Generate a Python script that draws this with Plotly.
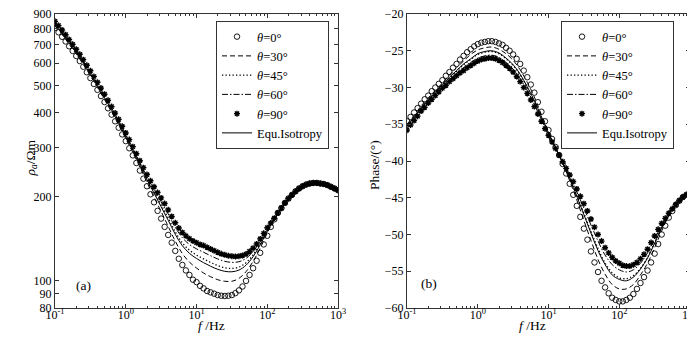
import plotly.graph_objects as go

# ---------------- data ----------------
# frequency exponents (log10 f): markers at 0.05 steps, lines at 0.1 steps
EXP_MARK = [-1.0, -0.95, -0.9, -0.85, -0.8, -0.75, -0.7, -0.65, -0.6, -0.55,
            -0.5, -0.45, -0.4, -0.35, -0.3, -0.25, -0.2, -0.15, -0.1, -0.05,
            0.0, 0.05, 0.1, 0.15, 0.2, 0.25, 0.3, 0.35, 0.4, 0.45,
            0.5, 0.55, 0.6, 0.65, 0.7, 0.75, 0.8, 0.85, 0.9, 0.95,
            1.0, 1.05, 1.1, 1.15, 1.2, 1.25, 1.3, 1.35, 1.4, 1.45,
            1.5, 1.55, 1.6, 1.65, 1.7, 1.75, 1.8, 1.85, 1.9, 1.95,
            2.0, 2.05, 2.1, 2.15, 2.2, 2.25, 2.3, 2.35, 2.4, 2.45,
            2.5, 2.55, 2.6, 2.65, 2.7, 2.75, 2.8, 2.85, 2.9, 2.95, 3.0]
EXP_LINE = [-1.0, -0.9, -0.8, -0.7, -0.6, -0.5, -0.4, -0.3, -0.2, -0.1,
            0.0, 0.1, 0.2, 0.3, 0.4, 0.5, 0.6, 0.7, 0.8, 0.9,
            1.0, 1.1, 1.2, 1.3, 1.4, 1.5, 1.6, 1.7, 1.8, 1.9,
            2.0, 2.1, 2.2, 2.3, 2.4, 2.5, 2.6, 2.7, 2.8, 2.9, 3.0]

# apparent resistivity (Ohm m)
RHO_0 = [802, 774, 746, 718, 690, 664, 637, 611, 583, 557,
         531, 506, 482, 458, 436, 414, 393, 372, 353, 334,
         316, 298, 281, 264, 248, 232, 218, 204, 191, 178,
         167, 156, 146, 137, 128, 120, 114, 109, 105, 101,
         99, 96, 94, 92, 91, 90, 89, 88.5, 88.3, 88.5,
         89, 90.4, 92.5, 95.5, 100, 105, 111, 118, 126, 135,
         145, 156, 166, 175, 182, 190, 197, 203, 209, 214,
         218, 221, 223, 224, 224, 223, 222, 220, 217, 214, 211]
RHO_90 = [847, 818, 789, 759, 729, 701, 673, 646, 618, 590,
          564, 538, 513, 489, 465, 442, 420, 398, 378, 357,
          338, 320, 302, 285, 269, 254, 240, 228, 217, 207,
          198, 189, 179.5, 170, 161.4, 154.5, 149, 144.9, 141.6, 139,
          137, 135, 133.7, 131.8, 130, 128.2, 126.5, 125, 123.9, 123,
          122.5, 122.2, 122.5, 123.3, 124.7, 127.4, 130.9, 135.5, 141.3, 147.9,
          154.9, 161, 167.5, 175, 182.4, 190, 197, 203, 209, 214,
          218, 221, 223, 224, 224, 223, 222, 220, 217, 214, 211]
RHO_30 = [816, 760, 702, 649, 594, 542, 492, 445, 402, 361,
          323, 288, 255, 225, 199, 177, 156.7, 138.7, 125.2, 116.7,
          111.2, 106.7, 103.5, 101.0, 99.7, 99.7, 102.1, 107.9, 117.4, 130.9,
          148.2, 166.5, 182, 197, 209, 218, 223, 224, 222, 217, 211]
RHO_45 = [831, 774, 715, 660, 606, 552, 502, 455, 411, 369,
          330, 295, 262, 232, 208, 187, 167.8, 149.7, 136.8, 128.8,
          123.7, 119.8, 116.4, 113.4, 111.4, 110.8, 112.0, 116.1, 123.9, 135.9,
          151.4, 167.0, 182, 197, 209, 218, 223, 224, 222, 217, 211]
RHO_60 = [839, 781, 722, 667, 612, 558, 507, 460, 415, 374,
          334, 298, 265, 236, 212, 192, 173.5, 155.4, 142.7, 135.0,
          130.2, 126.6, 123.0, 119.8, 117.5, 116.5, 117.1, 120.3, 127.3, 138.5,
          153.1, 167.2, 182, 197, 209, 218, 223, 224, 222, 217, 211]
RHO_ISO = [827, 770, 712, 657, 603, 549, 499, 452, 408, 367,
           328, 293, 260, 230, 206, 184, 164.8, 146.7, 133.6, 125.5,
           120.3, 116.2, 112.8, 110.0, 108.2, 107.8, 109.3, 113.8, 122.1, 134.6,
           150.5, 166.8, 182, 197, 209, 218, 223, 224, 222, 217, 211]

# phase (degrees)
PH_0 = [-34.6, -34.0, -33.4, -32.8, -32.2, -31.6, -31.1, -30.5, -30.0, -29.5,
        -29.0, -28.4, -27.9, -27.3, -26.8, -26.2, -25.7, -25.2, -24.8, -24.4,
        -24.1, -23.9, -23.8, -23.7, -23.7, -23.8, -24.0, -24.2, -24.6, -25.0,
        -25.5, -26.1, -26.8, -27.7, -28.6, -29.6, -30.7, -32.0, -33.3, -34.6,
        -35.8, -37.0, -38.1, -39.2, -40.4, -41.7, -43.1, -44.6, -46.1, -47.6,
        -49.2, -50.7, -52.3, -53.8, -55.1, -56.3, -57.2, -58.0, -58.6, -58.9,
        -59.1, -59.1, -58.9, -58.6, -58.1, -57.4, -56.6, -55.8, -54.9, -53.8,
        -52.6, -51.3, -50.0, -48.8, -47.7, -46.8, -46.0, -45.4, -44.9, -44.6, -44.4]
PH_90 = [-35.8, -35.1, -34.5, -33.9, -33.2, -32.7, -32.1, -31.6, -31.1, -30.6,
         -30.1, -29.7, -29.2, -28.8, -28.4, -28.0, -27.7, -27.3, -27.0, -26.7,
         -26.4, -26.2, -26.1, -26.0, -26.0, -26.1, -26.3, -26.6, -27.0, -27.4,
         -27.9, -28.5, -29.2, -30.0, -30.8, -31.7, -32.6, -33.6, -34.6, -35.6,
         -36.5, -37.4, -38.3, -39.2, -40.1, -41.0, -41.9, -42.8, -43.8, -44.8,
         -45.8, -46.8, -47.9, -49.0, -50.0, -50.9, -51.8, -52.5, -53.1, -53.6,
         -53.9, -54.2, -54.3, -54.3, -54.1, -53.8, -53.3, -52.7, -52.0, -51.1,
         -50.2, -49.3, -48.5, -47.8, -47.1, -46.5, -45.9, -45.4, -44.9, -44.6, -44.4]
PH_30 = [-35.0, -33.8, -32.5, -31.4, -30.4, -29.4, -28.3, -27.3, -26.4, -25.5,
         -24.9, -24.6, -24.5, -24.8, -25.4, -26.3, -27.6, -29.3, -31.3, -33.7,
         -36.0, -38.2, -40.3, -42.7, -45.3, -48.1, -50.8, -53.4, -55.4, -56.8,
         -57.4, -57.4, -56.8, -55.5, -53.9, -51.8, -49.5, -47.5, -46.0, -44.9, -44.4]
PH_45 = [-35.3, -34.1, -32.8, -31.7, -30.7, -29.7, -28.7, -27.8, -26.9, -26.2,
         -25.5, -25.2, -25.1, -25.4, -26.1, -27.0, -28.3, -30.0, -31.9, -34.1,
         -36.2, -38.2, -40.2, -42.4, -44.7, -47.1, -49.6, -51.9, -53.9, -55.2,
         -55.9, -56.0, -55.6, -54.6, -53.1, -51.1, -49.1, -47.3, -45.9, -44.9, -44.4]
PH_60 = [-35.6, -34.3, -33.0, -31.9, -30.9, -29.9, -29.0, -28.1, -27.3, -26.6,
         -26.0, -25.7, -25.6, -25.9, -26.6, -27.5, -28.8, -30.4, -32.3, -34.4,
         -36.4, -38.3, -40.2, -42.1, -44.2, -46.4, -48.7, -50.9, -52.8, -54.1,
         -54.8, -55.1, -54.8, -53.9, -52.5, -50.6, -48.8, -47.2, -45.9, -44.9, -44.4]
PH_ISO = [-35.3, -34.0, -32.8, -31.7, -30.6, -29.6, -28.6, -27.7, -26.8, -26.1,
          -25.4, -25.1, -25.0, -25.3, -26.0, -26.9, -28.2, -29.9, -31.8, -34.0,
          -36.2, -38.2, -40.2, -42.4, -44.8, -47.3, -49.8, -52.2, -54.1, -55.5,
          -56.1, -56.3, -55.8, -54.7, -53.2, -51.2, -49.1, -47.4, -45.9, -44.9, -44.4]

NAMES = ["<i>θ</i>=0°", "<i>θ</i>=30°", "<i>θ</i>=45°", "<i>θ</i>=60°", "<i>θ</i>=90°", "Equ.Isotropy"]
X_TICKS = [0.1, 1, 10, 100, 1000]
X_TICKTEXT = ["10<sup>-1</sup>", "10<sup>0</sup>", "10<sup>1</sup>", "10<sup>2</sup>", "10<sup>3</sup>"]
RHO_TICKS = [80, 90, 100, 200, 300, 400, 500, 600, 700, 800, 900]
PH_TICKS = [-60, -55, -50, -45, -40, -35, -30, -25, -20]

# ---------------- figure ----------------
FONT = "Liberation Serif, Times New Roman, serif"
f_mark = [10 ** e for e in EXP_MARK]
f_line = [10 ** e for e in EXP_LINE]

fig = go.Figure()

def add_panel(xa, ya, leg, y0, y30, y45, y60, y90, yiso):
    common = dict(xaxis=xa, yaxis=ya, legend=leg)
    fig.add_trace(go.Scatter(x=f_mark, y=y0, mode="markers", name=NAMES[0],
                             marker=dict(symbol="circle-open", size=5.5, color="black",
                                         line=dict(width=0.9, color="black")), **common))
    fig.add_trace(go.Scatter(x=f_line, y=y30, mode="lines", name=NAMES[1], line_shape="spline",
                             line=dict(color="black", width=1, dash="5px,3px"), **common))
    fig.add_trace(go.Scatter(x=f_line, y=y45, mode="lines", name=NAMES[2], line_shape="spline",
                             line=dict(color="black", width=1.3, dash="1.3px,2.2px"), **common))
    fig.add_trace(go.Scatter(x=f_line, y=y60, mode="lines", name=NAMES[3], line_shape="spline",
                             line=dict(color="black", width=1, dash="6px,2px,1.5px,2px"), **common))
    fig.add_trace(go.Scatter(x=f_mark, y=y90, mode="markers", name=NAMES[4],
                             marker=dict(symbol="asterisk-open", size=5, color="black",
                                         line=dict(width=1.4, color="black")), **common))
    fig.add_trace(go.Scatter(x=f_line, y=yiso, mode="lines", name=NAMES[5], line_shape="spline",
                             line=dict(color="black", width=1), **common))

add_panel("x", "y", "legend", RHO_0, RHO_30, RHO_45, RHO_60, RHO_90, RHO_ISO)
add_panel("x2", "y2", "legend2", PH_0, PH_30, PH_45, PH_60, PH_90, PH_ISO)

W, H = 695, 338
ydom = [(H - 300) / H, (H - 6) / H]
axis_style = dict(showline=True, linecolor="#333", linewidth=1, mirror="ticks",
                  ticks="inside", tickcolor="#333", showgrid=False, zeroline=False,
                  automargin=False, ticklabeloverflow="allow",
                  tickfont=dict(family=FONT, size=12, color="black"))
xaxis_common = dict(type="log", range=[-1, 3], tickmode="array", tickvals=X_TICKS,
                    ticktext=X_TICKTEXT, ticklen=4, ticklabelstandoff=-4,
                    minor=dict(ticks="inside", ticklen=2, dtick="D1", tickcolor="#333"),
                    **axis_style)

legend_style = dict(bgcolor="white", bordercolor="#333", borderwidth=1,
                    font=dict(family=FONT, size=12.5, color="black"),
                    xanchor="left", yanchor="top", tracegroupgap=0, itemwidth=30)

TITLE_FONT = dict(family=FONT, size=13.5, color="black")

fig.update_layout(
    width=W, height=H, margin=dict(l=0, r=0, t=0, b=0),
    paper_bgcolor="white", plot_bgcolor="white",
    xaxis=dict(domain=[47 / W, 330 / W], anchor="y", **xaxis_common),
    xaxis2=dict(domain=[399 / W, 682 / W], anchor="y2", **xaxis_common),
    yaxis=dict(domain=ydom, anchor="x", type="log", range=[1.90309, 2.95424],
               tickmode="array", tickvals=RHO_TICKS, ticklen=4, **axis_style),
    yaxis2=dict(domain=ydom, anchor="x2", range=[-60, -20],
                tickmode="array", tickvals=PH_TICKS, ticklen=4, **axis_style),
    legend=dict(x=208 / W, y=1 - 13 / H, **legend_style),
    legend2=dict(x=553 / W, y=1 - 13 / H, **legend_style),
    showlegend=True,
    annotations=[
        # axis titles
        dict(text="<i>f</i> /Hz", xref="paper", yref="paper", x=188 / W, y=1 - 327 / H,
             showarrow=False, font=TITLE_FONT),
        dict(text="<i>f</i> /Hz", xref="paper", yref="paper", x=540 / W, y=1 - 327 / H,
             showarrow=False, font=TITLE_FONT),
        dict(text="<i>ρ</i><sub><i>a</i></sub>/Ωm", xref="paper", yref="paper",
             x=12 / W, y=1 - 150 / H, textangle=-90, showarrow=False, font=TITLE_FONT),
        dict(text="Phase/(°)", xref="paper", yref="paper",
             x=366 / W, y=1 - 157 / H, textangle=-90, showarrow=False, font=TITLE_FONT),
        # panel labels
        dict(text="(a)", xref="paper", yref="paper", x=66 / W, y=1 - 287 / H,
             showarrow=False, font=dict(family=FONT, size=13.5, color="black")),
        dict(text="(b)", xref="paper", yref="paper", x=421 / W, y=1 - 285 / H,
             showarrow=False, font=dict(family=FONT, size=13.5, color="black")),
    ],
)

fig.write_html("out.html")
